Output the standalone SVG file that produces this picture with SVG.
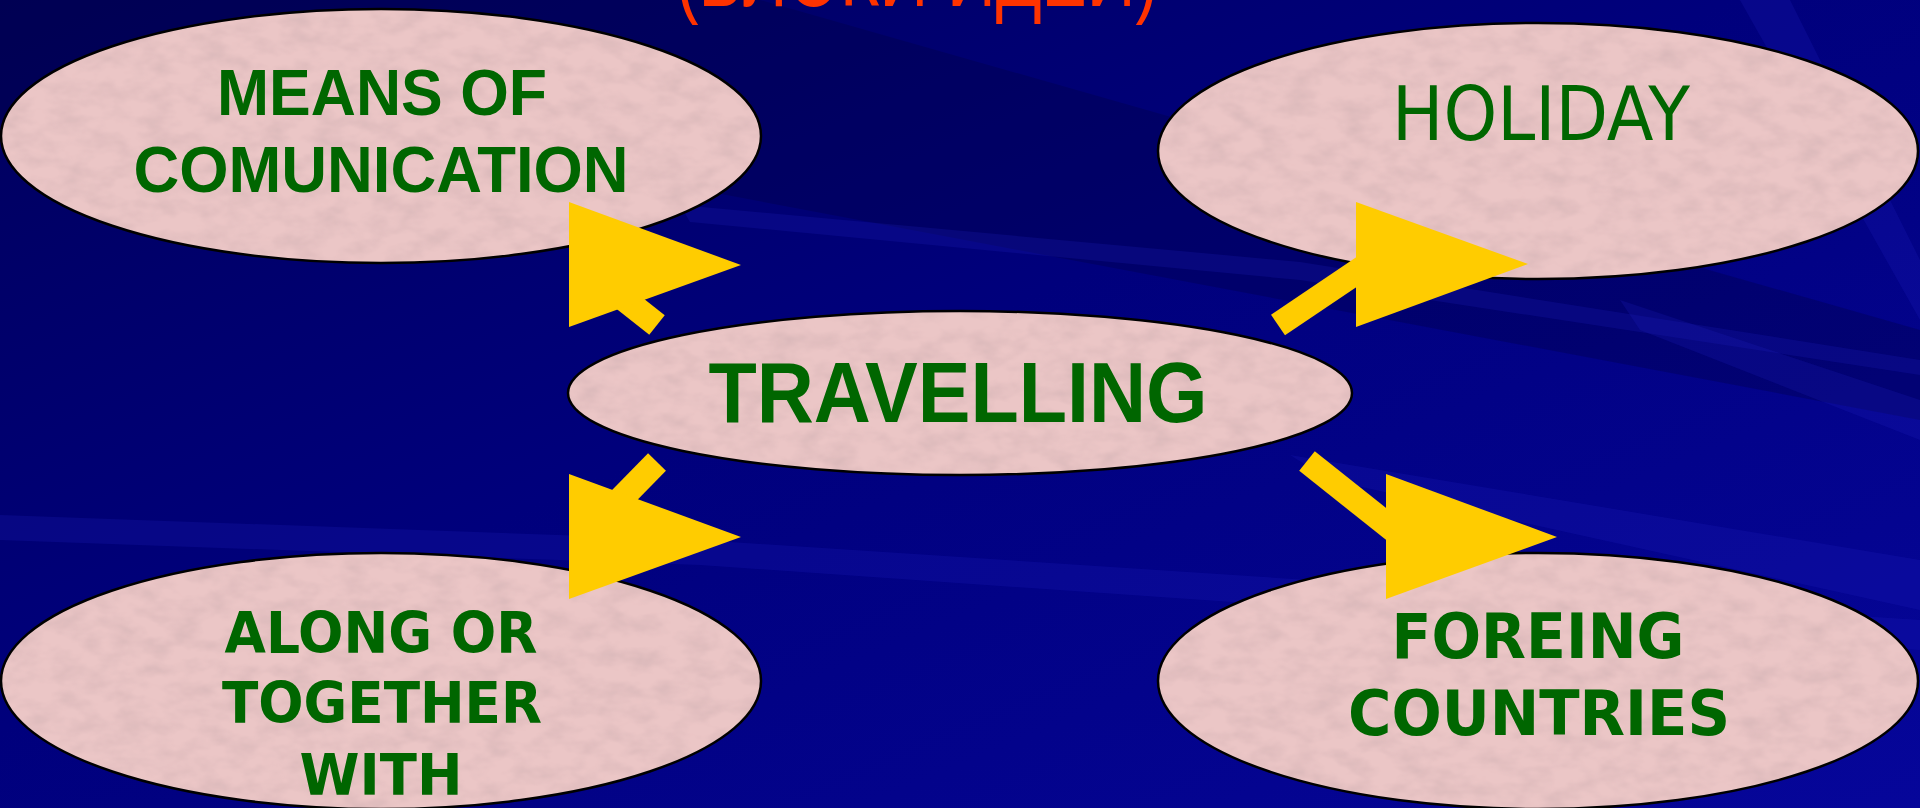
<svg xmlns="http://www.w3.org/2000/svg" width="1920" height="808" viewBox="0 0 1920 808">
<defs>
<linearGradient id="bg" x1="0" y1="0" x2="1" y2="1">
<stop offset="0" stop-color="#00005c"/>
<stop offset="0.45" stop-color="#00007c"/>
<stop offset="1" stop-color="#06069a"/>
</linearGradient>
<filter id="tex" x="0" y="0" width="100%" height="100%">
<feTurbulence type="fractalNoise" baseFrequency="0.035 0.06" numOctaves="3" seed="7" result="n"/>
<feColorMatrix in="n" type="matrix" values="0 0 0 0 0.55  0 0 0 0 0.38  0 0 0 0 0.40  0.8 0 0 0 -0.30" result="c"/>
<feComposite in="c" in2="SourceGraphic" operator="in" result="m"/>
<feMerge><feMergeNode in="SourceGraphic"/><feMergeNode in="m"/></feMerge>
</filter>
</defs>
<style>
.fill{fill:#ebc6c6;stroke:none}
.edge{fill:none;stroke:#000;stroke-width:2.5}
.tb{font-family:"Liberation Sans",Arial,sans-serif;font-weight:bold;fill:#006600;text-anchor:middle}
.tt{font-family:"DejaVu Sans",Verdana,sans-serif;font-weight:bold;fill:#006600;text-anchor:middle}
.tr{font-family:"DejaVu Sans",Verdana,sans-serif;fill:#006600;text-anchor:middle}
.head{fill:#ffcc00}
.shaft{stroke:#ffcc00;stroke-width:25;stroke-linecap:butt;fill:none}
.streak{fill:#2020c0;opacity:0.22}
.dark{fill:#000040;opacity:0.3}
</style>
<rect width="1920" height="808" fill="url(#bg)"/>
<g id="background">
<polygon class="dark" points="0,0 760,0 1920,330 1920,420 700,190 0,120"/>
<polygon class="streak" points="0,515 700,540 1920,620 1920,650 700,565 0,540"/>
<polygon class="streak" points="1290,455 1920,560 1920,610 1330,480"/>
<polygon class="streak" points="680,205 1300,262 1920,360 1920,375 1300,280 690,222"/>
<polygon class="streak" points="1740,0 1790,0 1920,260 1920,320"/>
<polygon class="streak" points="1620,300 1920,400 1920,440 1640,330"/>
</g>
<g id="title">
<text x="917" y="6" font-family="Liberation Sans,Arial,sans-serif" font-size="90" fill="#ff3300" text-anchor="middle" textLength="482" lengthAdjust="spacingAndGlyphs">(БЛОКИ ИДЕЙ)</text>
</g>
<g id="node-means">
<ellipse class="fill" cx="381" cy="136" rx="380" ry="127" filter="url(#tex)"/>
<ellipse class="edge" cx="381" cy="136" rx="380" ry="127"/>
<text class="tb" x="382" y="115" font-size="64" textLength="330" lengthAdjust="spacingAndGlyphs">MEANS OF</text>
<text class="tb" x="381" y="192" font-size="64" textLength="495" lengthAdjust="spacingAndGlyphs">COMUNICATION</text>
</g>
<g id="node-holiday">
<ellipse class="fill" cx="1538" cy="151" rx="380" ry="128" filter="url(#tex)"/>
<ellipse class="edge" cx="1538" cy="151" rx="380" ry="128"/>
<text class="tr" x="1541" y="140" font-size="75" textLength="298" lengthAdjust="spacingAndGlyphs">HOLIDAY</text>
</g>
<g id="node-travelling">
<ellipse class="fill" cx="960" cy="393" rx="392" ry="82" filter="url(#tex)"/>
<ellipse class="edge" cx="960" cy="393" rx="392" ry="82"/>
<text class="tb" x="958" y="422" font-size="85" textLength="499" lengthAdjust="spacingAndGlyphs">TRAVELLING</text>
</g>
<g id="node-along">
<ellipse class="fill" cx="381" cy="681" rx="380" ry="128" filter="url(#tex)"/>
<ellipse class="edge" cx="381" cy="681" rx="380" ry="128"/>
<text class="tt" x="381" y="653" font-size="57" textLength="313" lengthAdjust="spacingAndGlyphs">ALONG OR</text>
<text class="tt" x="382" y="723" font-size="57" textLength="320" lengthAdjust="spacingAndGlyphs">TOGETHER</text>
<text class="tt" x="381" y="795" font-size="57" textLength="163" lengthAdjust="spacingAndGlyphs">WITH</text>
</g>
<g id="node-foreign">
<ellipse class="fill" cx="1538" cy="681" rx="380" ry="128" filter="url(#tex)"/>
<ellipse class="edge" cx="1538" cy="681" rx="380" ry="128"/>
<text class="tt" x="1538" y="658" font-size="63" textLength="293" lengthAdjust="spacingAndGlyphs">FOREING</text>
<text class="tt" x="1539" y="735" font-size="63" textLength="382" lengthAdjust="spacingAndGlyphs">COUNTRIES</text>
</g>
<g id="connectors">
<line class="shaft" x1="657" y1="325" x2="600" y2="280"/>
<polygon class="head" points="569,202 741,265 569,327"/>
<line class="shaft" x1="657" y1="462" x2="610" y2="510"/>
<polygon class="head" points="569,474 741,537 569,599"/>
<line class="shaft" x1="1278" y1="325" x2="1370" y2="263"/>
<polygon class="head" points="1356,202 1528,264 1356,327"/>
<line class="shaft" x1="1307" y1="461" x2="1400" y2="535"/>
<polygon class="head" points="1386,474 1557,537 1386,599"/>
</g>
</svg>
